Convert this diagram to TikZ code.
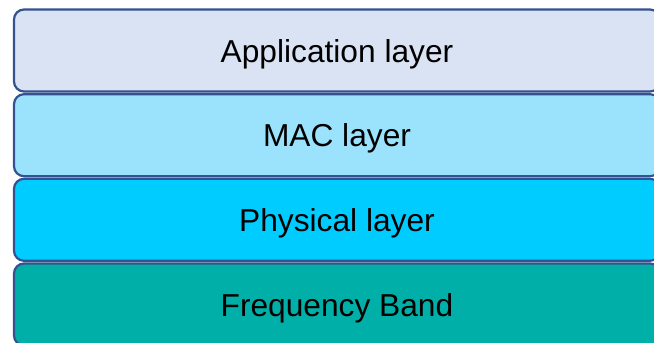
\documentclass[tikz,border=0pt]{standalone}
\usepackage{fontspec}
\setmainfont{Liberation Sans}
\definecolor{bordc}{HTML}{34528F}
\definecolor{appc}{HTML}{DAE3F3}
\definecolor{macc}{HTML}{9BE3FD}
\definecolor{phyc}{HTML}{00CCFF}
\definecolor{frqc}{HTML}{00B0A8}
\begin{document}
\begin{tikzpicture}[x=1pt,y=-1pt,
  layerbox/.style={draw=bordc, line width=2.2pt, rounded corners=10pt,
    minimum width=646pt, minimum height=82pt, inner sep=0pt,
    text height=23pt, text depth=0pt,
    font=\fontsize{31.7}{36}\selectfont, text=black}]
\useasboundingbox (0,0) rectangle (654,343);
\clip (0,0) rectangle (654,343);
\node[layerbox, fill=appc] (app) at (337,50.5) {Application layer};
\node[layerbox, fill=macc] (mac) at (337,135.2) {MAC layer};
\node[layerbox, fill=phyc] (phy) at (337,219.8) {Physical layer};
\node[layerbox, fill=frqc] (frq) at (337,304.5) {Frequency Band};
\end{tikzpicture}
\end{document}
